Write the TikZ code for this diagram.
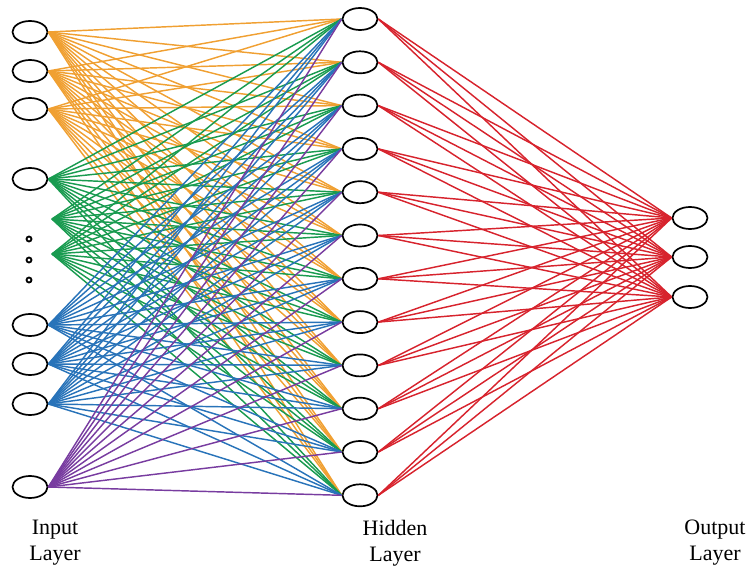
\documentclass[tikz,border=0pt]{standalone}
\usepackage{fontspec}
\setmainfont{Liberation Serif}
\usetikzlibrary{shapes.geometric, positioning, calc}

\definecolor{orangeline}{RGB}{240,160,50}
\definecolor{greenline}{RGB}{25,155,80}
\definecolor{blueline}{RGB}{40,115,185}
\definecolor{purpleline}{RGB}{120,60,160}
\definecolor{redline}{RGB}{215,35,45}

\begin{document}
\begin{tikzpicture}[x=1pt, y=-1pt]
        \tikzstyle{neuron}=[draw, ellipse, line width=1.7pt, minimum width=35pt, minimum height=22pt, inner sep=0pt, fill=white];
        \tikzstyle{conn}=[line width=1.45pt];
        \tikzstyle{dotnode}=[draw, circle, line width=1.8pt, minimum size=5pt, inner sep=0pt];
        \tikzstyle{lab}=[align=center, font=\fontsize{22}{26}\selectfont];
        \useasboundingbox (0,0) rectangle (746,569);

        % input layer
        \node[neuron] (in1) at (30,32) {};
        \node[neuron] (in2) at (30,71) {};
        \node[neuron] (in3) at (30,109) {};
        \node[neuron] (in4) at (30,179) {};
        \node[neuron] (in5) at (30,325) {};
        \node[neuron] (in6) at (30,364) {};
        \node[neuron] (in7) at (30,404) {};
        \node[neuron] (in8) at (30,487) {};
        \coordinate (gA) at (52,219);
        \coordinate (gB) at (52,254);
        \node[dotnode] (dot1) at (29,239) {};
        \node[dotnode] (dot2) at (29,260) {};
        \node[dotnode] (dot3) at (29,280) {};

        % hidden layer
        \foreach \i in {1,...,12}
          \node[neuron] (hid\i) at (360,{19+43.3*(\i-1)}) {};

        % output layer
        \node[neuron] (out1) at (690,218) {};
        \node[neuron] (out2) at (690,257) {};
        \node[neuron] (out3) at (690,297) {};

        \foreach \s/\c in {in1.east/orangeline, in2.east/orangeline, in3.east/orangeline,
                           in4.east/greenline, gA/greenline, gB/greenline,
                           in5.east/blueline, in6.east/blueline, in7.east/blueline,
                           in8.east/purpleline}
          \foreach \j in {1,...,12}
            \draw[conn, \c] (\s) -- (hid\j.west);

        \foreach \j in {1,...,12}
          \foreach \k in {1,2,3}
            \draw[conn, redline] (hid\j.east) -- (out\k.west);

        \node[lab] (inlab) at (55,543) {Input\\Layer};
        \node[lab] (hidlab) at (395,543) {Hidden\\Layer};
        \node[lab] (outlab) at (715,543) {Output\\Layer};
      \end{tikzpicture}
\end{document}
